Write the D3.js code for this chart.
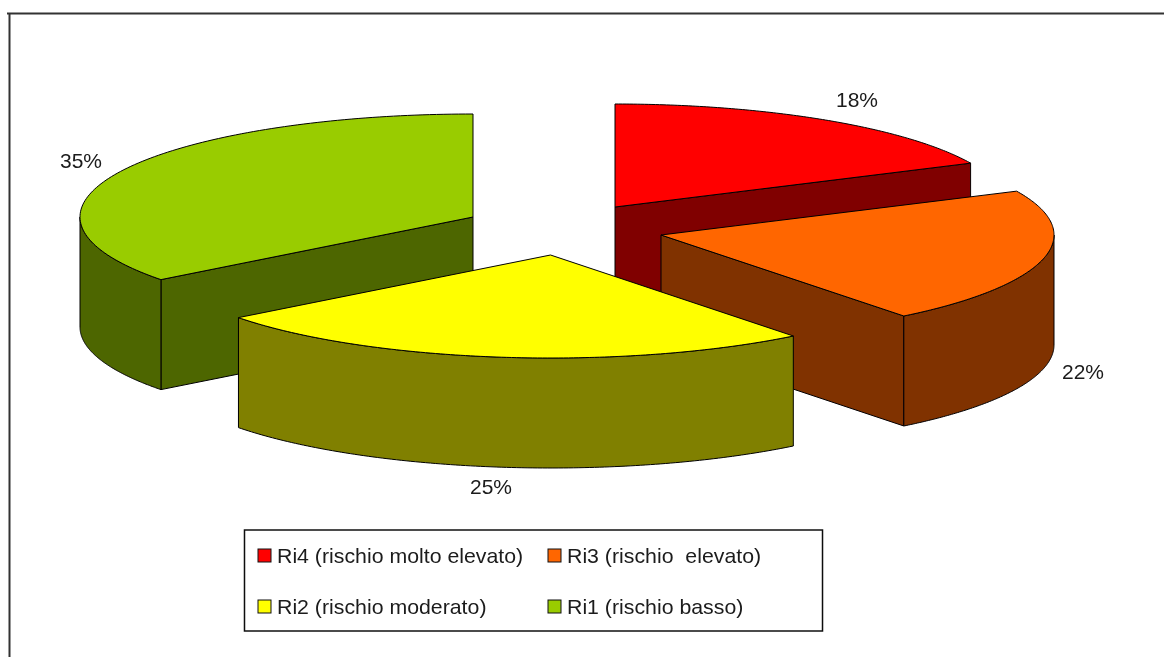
<!DOCTYPE html>
<html><head><meta charset="utf-8">
<script src="https://cdnjs.cloudflare.com/ajax/libs/d3/7.8.5/d3.min.js"></script>
<style>
html,body{margin:0;padding:0;background:#fff;overflow:hidden}
svg{display:block}
text{font-family:"Liberation Sans",Arial,sans-serif;fill:#1a1a1a}
</style></head><body>
<svg id="c" width="1164" height="657"></svg>
<script>
const categories = ["Ri4 (rischio molto elevato)","Ri3 (rischio  elevato)","Ri2 (rischio moderato)","Ri1 (rischio basso)"];
const values = [18, 21.4, 25.2, 35.4];
const labels = ["18%","22%","25%","35%"];
const topColors = ["#ff0000","#ff6600","#ffff00","#99cc00"];
const sideColors = ["#800000","#803300","#808000","#4d6600"];

const centers = [[615,207],[661,235],[550.5,255],[473,217]];
const rx = 393, ry = 103, depth = 110;
const labelPos = [[857,100],[1083,372],[491,487],[81,161]];
const drawOrder = [0,1,3,2];

const svg = d3.select("#c");
const blur = svg.append("defs").append("filter").attr("id","b")
  .attr("x","-5%").attr("y","-5%").attr("width","110%").attr("height","110%");
blur.append("feGaussianBlur").attr("stdDeviation",0.5);

const root = svg.append("g").attr("filter","url(#b)");

// frame
root.append("path").attr("d","M7,13.5H1164M9.5,13V657").attr("fill","none").attr("stroke","#333").attr("stroke-width",2);

const pie = d3.pie().sort(null)(values);
const sx = d3.scaleLinear([-1,1],[-rx,rx]);
const sy = d3.scaleLinear([-1,1],[-ry,ry]);
const line = d3.line();
const pt = (c,a,dz=0)=>[c[0]+sx(Math.sin(a)), c[1]-sy(Math.cos(a))+dz];
const arcPts = (c,a0,a1,dz=0)=>d3.range(0,121).map(i=>pt(c,a0+(a1-a0)*i/120,dz));

drawOrder.forEach(i=>{
  const s = pie[i], c = centers[i], a0 = s.startAngle, a1 = s.endAngle;
  const g = root.append("g").attr("stroke","#000").attr("stroke-width",1).attr("stroke-linejoin","round");
  const sideFill = sideColors[i];
  const wall = a=>{
    const p=pt(c,a);
    return line([c,p,[p[0],p[1]+depth],[c[0],c[1]+depth]])+"Z";
  };
  // cut faces that look toward the viewer
  if (a1>0 && a1<Math.PI) g.append("path").attr("d",wall(a1)).attr("fill",sideFill);
  if (a0>Math.PI && a0<2*Math.PI) g.append("path").attr("d",wall(a0)).attr("fill",sideFill);
  // outer rim wall: only the front half
  const r0 = Math.max(a0,Math.PI/2), r1 = Math.min(a1,3*Math.PI/2);
  if (r1>r0){
    const top = arcPts(c,r0,r1), bot = arcPts(c,r0,r1,depth).reverse();
    g.append("path").attr("d",line(top.concat(bot))+"Z").attr("fill",sideFill);
  }
  // top face
  g.append("path").attr("d",line([c].concat(arcPts(c,a0,a1)))+"Z").attr("fill",topColors[i]);
});

// data labels
root.selectAll("text.l").data(labels).join("text").attr("class","l")
  .attr("transform",(d,i)=>`translate(${labelPos[i][0]},${labelPos[i][1]+7}) scale(1.05,1)`)
  .attr("text-anchor","middle").attr("font-size",20).text(d=>d);

// legend
const lg = root.append("g");
lg.append("rect").attr("x",244.5).attr("y",530).attr("width",578).attr("height",101)
  .attr("fill","#fff").attr("stroke","#111").attr("stroke-width",1.5);
const lx = d3.scaleOrdinal([0,1],[258,548]), ly = d3.scaleOrdinal([0,1],[549,600]);
categories.forEach((t,i)=>{
  const col=i%2,row=Math.floor(i/2);
  lg.append("rect").attr("x",lx(col)).attr("y",ly(row)).attr("width",13).attr("height",13)
    .attr("fill",topColors[i]).attr("stroke","#111").attr("stroke-width",1);
  lg.append("text").attr("transform",`translate(${lx(col)+19},${ly(row)+13.5}) scale(1.065,1)`)
    .attr("font-size",20).style("white-space","pre").text(t);
});
</script>
</body></html>
